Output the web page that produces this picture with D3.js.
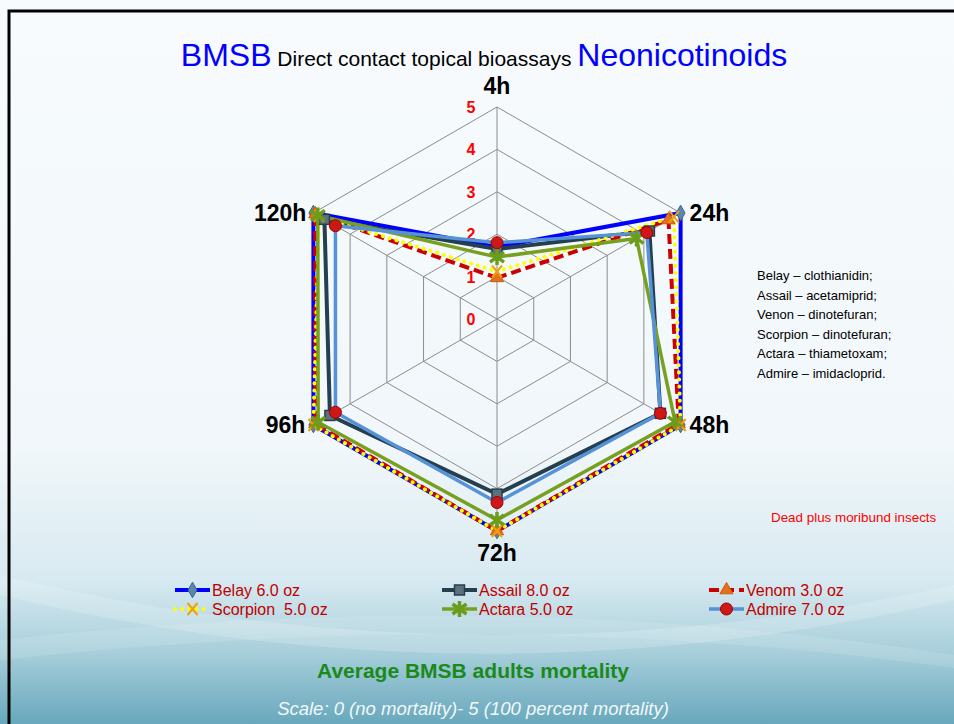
<!DOCTYPE html>
<html>
<head>
<meta charset="utf-8">
<script src="https://cdn.jsdelivr.net/npm/d3@7"></script>
<style>
  body { margin: 0; background: #fff; }
  svg { display: block; font-family: "Liberation Sans", Arial, sans-serif; }
</style>
</head>
<body>
<script>
// axes of the radar (hours after treatment)
const hours = ['4h', '24h', '48h', '72h', '96h', '120h'];
const levels = [0, 1, 2, 3, 4, 5];

// mortality score per product
const belay    = [1.7, 5.0, 5.0, 5.0, 5.0, 5.0];
const assail   = [1.65, 4.15, 4.45, 4.13, 4.55, 4.7];
const venom    = [0.97, 4.67, 4.95, 5.0, 4.95, 4.95];
const scorpion = [1.12, 4.82, 5.0, 5.0, 5.0, 4.85];
const actara   = [1.46, 3.8, 4.85, 4.74, 4.87, 4.88];
const admire   = [1.8, 4.08, 4.45, 4.33, 4.4, 4.4];

const seriesNames = ['Belay 6.0 oz', 'Assail 8.0 oz', 'Venom 3.0 oz', 'Scorpion  5.0 oz', 'Actara 5.0 oz', 'Admire 7.0 oz'];
const productNotes = ['Belay \u2013 clothianidin;', 'Assail \u2013 acetamiprid;', 'Venon \u2013 dinotefuran;',
  'Scorpion \u2013 dinotefuran;', 'Actara \u2013 thiametoxam;', 'Admire \u2013 imidacloprid.'];

const W = 954, H = 724;
const svg = d3.select('body').append('svg').attr('width', W).attr('height', H);
const defs = svg.append('defs');

// background like the slide template
const bg = defs.append('linearGradient').attr('id', 'bg').attr('x1', 0).attr('y1', 0).attr('x2', 0).attr('y2', 1);
bg.append('stop').attr('offset', '0%').attr('stop-color', '#f7fbfe');
bg.append('stop').attr('offset', '62%').attr('stop-color', '#f1f7fa');
bg.append('stop').attr('offset', '80%').attr('stop-color', '#d8eaf1');
bg.append('stop').attr('offset', '90%').attr('stop-color', '#a8cfdb');
bg.append('stop').attr('offset', '100%').attr('stop-color', '#68a8bc');
svg.append('rect').attr('width', W).attr('height', H).attr('fill', 'url(#bg)');

// soft waves at the bottom
svg.append('path')
  .attr('d', 'M0,575 Q480,690 954,585 L954,600 Q480,710 0,595 Z')
  .attr('fill', '#ffffff').attr('opacity', 0.18);
svg.append('path')
  .attr('d', 'M0,640 Q500,585 954,655 L954,668 Q500,605 0,660 Z')
  .attr('fill', '#ffffff').attr('opacity', 0.12);

// frame
svg.append('path').attr('d', 'M9,724 L9,11 L954,11').attr('fill', 'none').attr('stroke', '#000').attr('stroke-width', 3);

// title
const title = svg.append('text').attr('x', 484).attr('y', 66).attr('text-anchor', 'middle');
title.append('tspan').text('BMSB').attr('fill', '#0000ff').attr('font-size', 32);
title.append('tspan').text(' Direct contact topical bioassays ').attr('fill', '#000').attr('font-size', 21);
title.append('tspan').text('Neonicotinoids').attr('fill', '#0000ff').attr('font-size', 32);

// radar geometry
const cx = 497, cy = 319, R = 212;
const r = d3.scaleLinear().domain([0, 5]).range([0, R]);
const angle = d3.scalePoint().domain(hours).range([0, 300]);
function pt(h, v) {
  const a = (angle(h) - 90) * Math.PI / 180;
  return [cx + r(v) * Math.cos(a), cy + r(v) * Math.sin(a)];
}

const grid = svg.append('g');
levels.filter(l => l > 0).forEach(l => {
  grid.append('path')
    .attr('d', d3.line()(hours.map(h => pt(h, l))) + 'Z')
    .attr('fill', 'none').attr('stroke', '#8c8c8c').attr('stroke-width', 1);
});
hours.forEach(h => {
  grid.append('line')
    .attr('x1', cx).attr('y1', cy)
    .attr('x2', pt(h, 5)[0]).attr('y2', pt(h, 5)[1])
    .attr('stroke', '#8c8c8c').attr('stroke-width', 1);
});

// axis labels
const labelPos = {
  '4h':  { dx: 0, dy: -13, anchor: 'middle' },
  '24h': { dx: 9, dy: 8, anchor: 'start' },
  '48h': { dx: 9, dy: 8, anchor: 'start' },
  '72h': { dx: 0, dy: 30, anchor: 'middle' },
  '96h': { dx: -8, dy: 8, anchor: 'end' },
  '120h':{ dx: -7, dy: 8, anchor: 'end' }
};
hours.forEach(h => {
  const p = pt(h, 5);
  svg.append('text')
    .attr('x', p[0] + labelPos[h].dx).attr('y', p[1] + labelPos[h].dy)
    .attr('text-anchor', labelPos[h].anchor)
    .attr('font-size', 23).attr('font-weight', 'bold').attr('fill', '#000')
    .text(h);
});

// level labels
levels.forEach(l => {
  svg.append('text')
    .attr('x', cx - 26).attr('y', cy - r(l) + 6)
    .attr('text-anchor', 'middle')
    .attr('font-size', 16).attr('font-weight', 'bold').attr('fill', '#ff0000')
    .text(l);
});

// series styles
const styles = [
  { data: belay,    color: '#0000ff', width: 4,   dash: null,     cap: 'butt',  marker: 'diamond' },
  { data: assail,   color: '#243f4f', width: 4,   dash: null,     cap: 'butt',  marker: 'square' },
  { data: venom,    color: '#cc0000', width: 4,   dash: '10 5',   cap: 'butt',  marker: 'triangle' },
  { data: scorpion, color: '#ffff00', width: 4,   dash: '0.1 7',  cap: 'round', marker: 'cross' },
  { data: actara,   color: '#77a020', width: 3.5, dash: null,     cap: 'butt',  marker: 'star' },
  { data: admire,   color: '#5592d8', width: 3.5, dash: null,     cap: 'butt',  marker: 'circle' }
];

function drawMarker(g, type, x, y) {
  if (type === 'diamond') {
    g.append('path').attr('d', d3.symbol(d3.symbolDiamond, 70)()).attr('transform', `translate(${x},${y})`)
      .attr('fill', '#5b87ad').attr('stroke', '#3c6688').attr('stroke-width', 1);
  } else if (type === 'square') {
    g.append('rect').attr('x', x - 5).attr('y', y - 5).attr('width', 10).attr('height', 10)
      .attr('fill', '#5e707c').attr('stroke', '#243f4f').attr('stroke-width', 1.5);
  } else if (type === 'triangle') {
    g.append('path').attr('d', d3.symbol(d3.symbolTriangle, 75)()).attr('transform', `translate(${x},${y})`)
      .attr('fill', '#e4701c').attr('stroke', '#c95a10').attr('stroke-width', 1);
  } else if (type === 'cross') {
    g.append('path').attr('d', `M${x - 5},${y - 6}L${x + 5},${y + 6}M${x + 5},${y - 6}L${x - 5},${y + 6}`)
      .attr('stroke', '#eea010').attr('stroke-width', 2).attr('fill', 'none');
  } else if (type === 'star') {
    g.append('path').attr('d', `M${x},${y - 8}L${x},${y + 8}M${x - 7},${y - 5}L${x + 7},${y + 5}M${x + 7},${y - 5}L${x - 7},${y + 5}`)
      .attr('stroke', '#6c9c1c').attr('stroke-width', 3.5).attr('fill', 'none');
  } else if (type === 'circle') {
    g.append('circle').attr('cx', x).attr('cy', y).attr('r', 6)
      .attr('fill', '#cc1818').attr('stroke', '#a00000').attr('stroke-width', 1);
  }
}

const lineGen = d3.line();
const plot = svg.append('g');
styles.forEach(s => {
  const pts = hours.map((h, i) => pt(h, s.data[i]));
  const path = plot.append('path')
    .attr('d', lineGen(pts) + 'Z')
    .attr('fill', 'none')
    .attr('stroke', s.color)
    .attr('stroke-width', s.width)
    .attr('stroke-linecap', s.cap)
    .attr('stroke-linejoin', 'miter');
  if (s.dash) path.attr('stroke-dasharray', s.dash);
});
styles.forEach(s => {
  hours.forEach((h, i) => {
    const p = pt(h, s.data[i]);
    drawMarker(plot, s.marker, p[0], p[1]);
  });
});

// product notes on the right
productNotes.forEach((t, i) => {
  svg.append('text').attr('x', 757).attr('y', 280 + i * 19.5)
    .attr('font-size', 13).attr('fill', '#000').text(t);
});
svg.append('text').attr('x', 771).attr('y', 522)
  .attr('font-size', 13.4).attr('fill', '#ff0000').text('Dead plus moribund insects');

// legend
const legX = [175, 442, 709];
const legY = [590, 609];
styles.forEach((s, i) => {
  const x = legX[i % 3], y = legY[Math.floor(i / 3)];
  const g = svg.append('g');
  const ln = g.append('line').attr('x1', x).attr('y1', y).attr('x2', x + 35).attr('y2', y)
    .attr('stroke', s.color).attr('stroke-width', s.width).attr('stroke-linecap', s.cap);
  if (s.dash) ln.attr('stroke-dasharray', s.dash);
  drawMarker(g, s.marker, x + 17.5, y);
  g.append('text').attr('x', x + 37).attr('y', y + 6)
    .style('white-space', 'pre')
    .attr('font-size', 16).attr('fill', '#c00000').text(seriesNames[i]);
});

// captions
svg.append('text').attr('x', 473).attr('y', 678).attr('text-anchor', 'middle')
  .attr('font-size', 21).attr('font-weight', 'bold').attr('fill', '#1a8a1a')
  .text('Average BMSB adults mortality');
svg.append('text').attr('x', 473).attr('y', 715).attr('text-anchor', 'middle')
  .attr('font-size', 18.5).attr('font-style', 'italic').attr('fill', '#f2f7f9')
  .text('Scale: 0 (no mortality)- 5 (100 percent mortality)');
</script>
</body>
</html>
